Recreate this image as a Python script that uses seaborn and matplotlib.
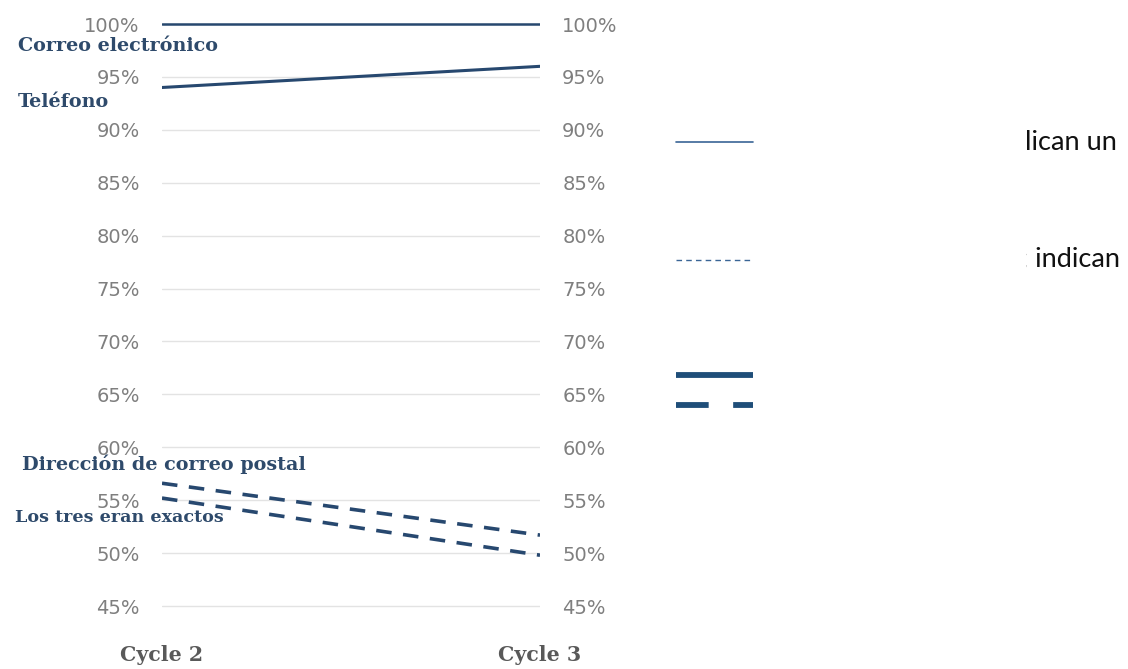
import matplotlib
matplotlib.use("Agg")
import matplotlib.pyplot as plt
from matplotlib.lines import Line2D
from matplotlib.patches import Rectangle
import seaborn as sns
import pandas as pd

# Survey accuracy by contact field, two cycles
cycles = ["Cycle 2", "Cycle 3"]
series_names = ["Correo electrónico", "Teléfono", "Dirección de correo postal", "Los tres eran exactos"]
correo_electronico = [100.0, 100.0]
telefono = [94.0, 96.0]
direccion_postal = [56.6, 51.7]
los_tres = [55.2, 49.8]
y_ticks = [45, 50, 55, 60, 65, 70, 75, 80, 85, 90, 95, 100]
y_tick_labels = [f"{t}%" for t in y_ticks]

values = [correo_electronico, telefono, direccion_postal, los_tres]
rows = []
for name, vals in zip(series_names, values):
    for i, v in enumerate(vals):
        rows.append({"serie": name, "ciclo": i, "valor": v})
df = pd.DataFrame(rows)

sns.set_theme(style="white")
plt.rcParams["font.family"] = ["DejaVu Sans"]

NAVY = "#27486f"
W, H = 1128, 669
fig = plt.figure(figsize=(W / 100, H / 100), dpi=100)

# axes spans 44.5..100.5 so the 45% and 100% gridlines are not clipped
y_lo, y_hi = 44.5, 100.5
ppu = (606 - 24) / 55.0
top_px = 24 - (y_hi - 100) * ppu
bot_px = 606 + (45 - y_lo) * ppu
ax = fig.add_axes([162 / W, 1 - bot_px / H, (540 - 162) / W, (bot_px - top_px) / H])

style_dashes = {
    "Correo electrónico": "",
    "Teléfono": "",
    "Dirección de correo postal": (4.3, 3.2),
    "Los tres eran exactos": (4.3, 3.2),
}
sizes = {
    "Correo electrónico": 1.8,
    "Teléfono": 2.2,
    "Dirección de correo postal": 2.6,
    "Los tres eran exactos": 2.6,
}
sns.lineplot(
    data=df, x="ciclo", y="valor", hue="serie", style="serie", size="serie",
    palette={n: NAVY for n in series_names}, dashes=style_dashes, sizes=sizes,
    ax=ax, legend=False,
)

ax.set_xlim(0, 1)
ax.set_ylim(y_lo, y_hi)
ax.set_yticks(y_ticks)
ax.set_yticklabels(y_tick_labels)
ax.set_xticks([0, 1])
ax.set_xticklabels(cycles)
ax.set_xlabel("")
ax.set_ylabel("")
ax.yaxis.grid(True, color="#e3e3e3", linewidth=1.0)
ax.set_axisbelow(True)
for s in ax.spines.values():
    s.set_visible(False)
ax.tick_params(axis="y", length=0, pad=16, labelsize=14, labelcolor="#7f7f7f",
               labelleft=True, labelright=True)
ax.tick_params(axis="x", length=0, pad=24)
for lbl in ax.get_xticklabels():
    lbl.set_fontfamily("DejaVu Serif")
    lbl.set_fontweight("bold")
    lbl.set_fontsize(14.8)
    lbl.set_color("#595959")

# Series labels on the left
label_style = {
    "Correo electrónico": (18, 46, 13.8),
    "Teléfono": (18, 102, 13.8),
    "Dirección de correo postal": (22, 464, 13.8),
    "Los tres eran exactos": (15, 517, 12.6),
}
for name in series_names:
    px, py, fs = label_style[name]
    fig.text(px / W, 1 - py / H, name, ha="left", va="center",
             fontfamily="DejaVu Serif", fontweight="bold", fontsize=fs, color="#2e4a6b")

# Line key on the right
key_x = [676 / W, 753 / W]
fig.add_artist(Line2D(key_x, [1 - 142 / H] * 2, color="#3a6596", lw=1.2))
fig.add_artist(Line2D(key_x, [1 - 260 / H] * 2, color="#3a6596", lw=1.0, dashes=(4, 3)))
fig.add_artist(Line2D(key_x, [1 - 375 / H] * 2, color="#1f4e79", lw=4.2, solid_capstyle="butt"))
fig.add_artist(Line2D(key_x, [1 - 405 / H] * 2, color="#1f4e79", lw=4.2,
                      dashes=(5.6, 4.2), dash_capstyle="butt"))

# Key descriptions; a white panel hides their left part
fig.text(1025 / W, 1 - 143 / H, "lican un", ha="left", va="center",
         fontfamily="Lato", fontsize=19.5, color="#111111", zorder=3)
fig.text(1021 / W, 1 - 259 / H, "; indican", ha="left", va="center",
         fontfamily="Lato", fontsize=19.5, color="#111111", zorder=3)
fig.add_artist(Rectangle((900 / W, 0.5), (1025.5 - 900) / W, 0.4, transform=fig.transFigure,
                         facecolor="white", edgecolor="none", zorder=4))

fig.savefig("out.png", dpi=100)
